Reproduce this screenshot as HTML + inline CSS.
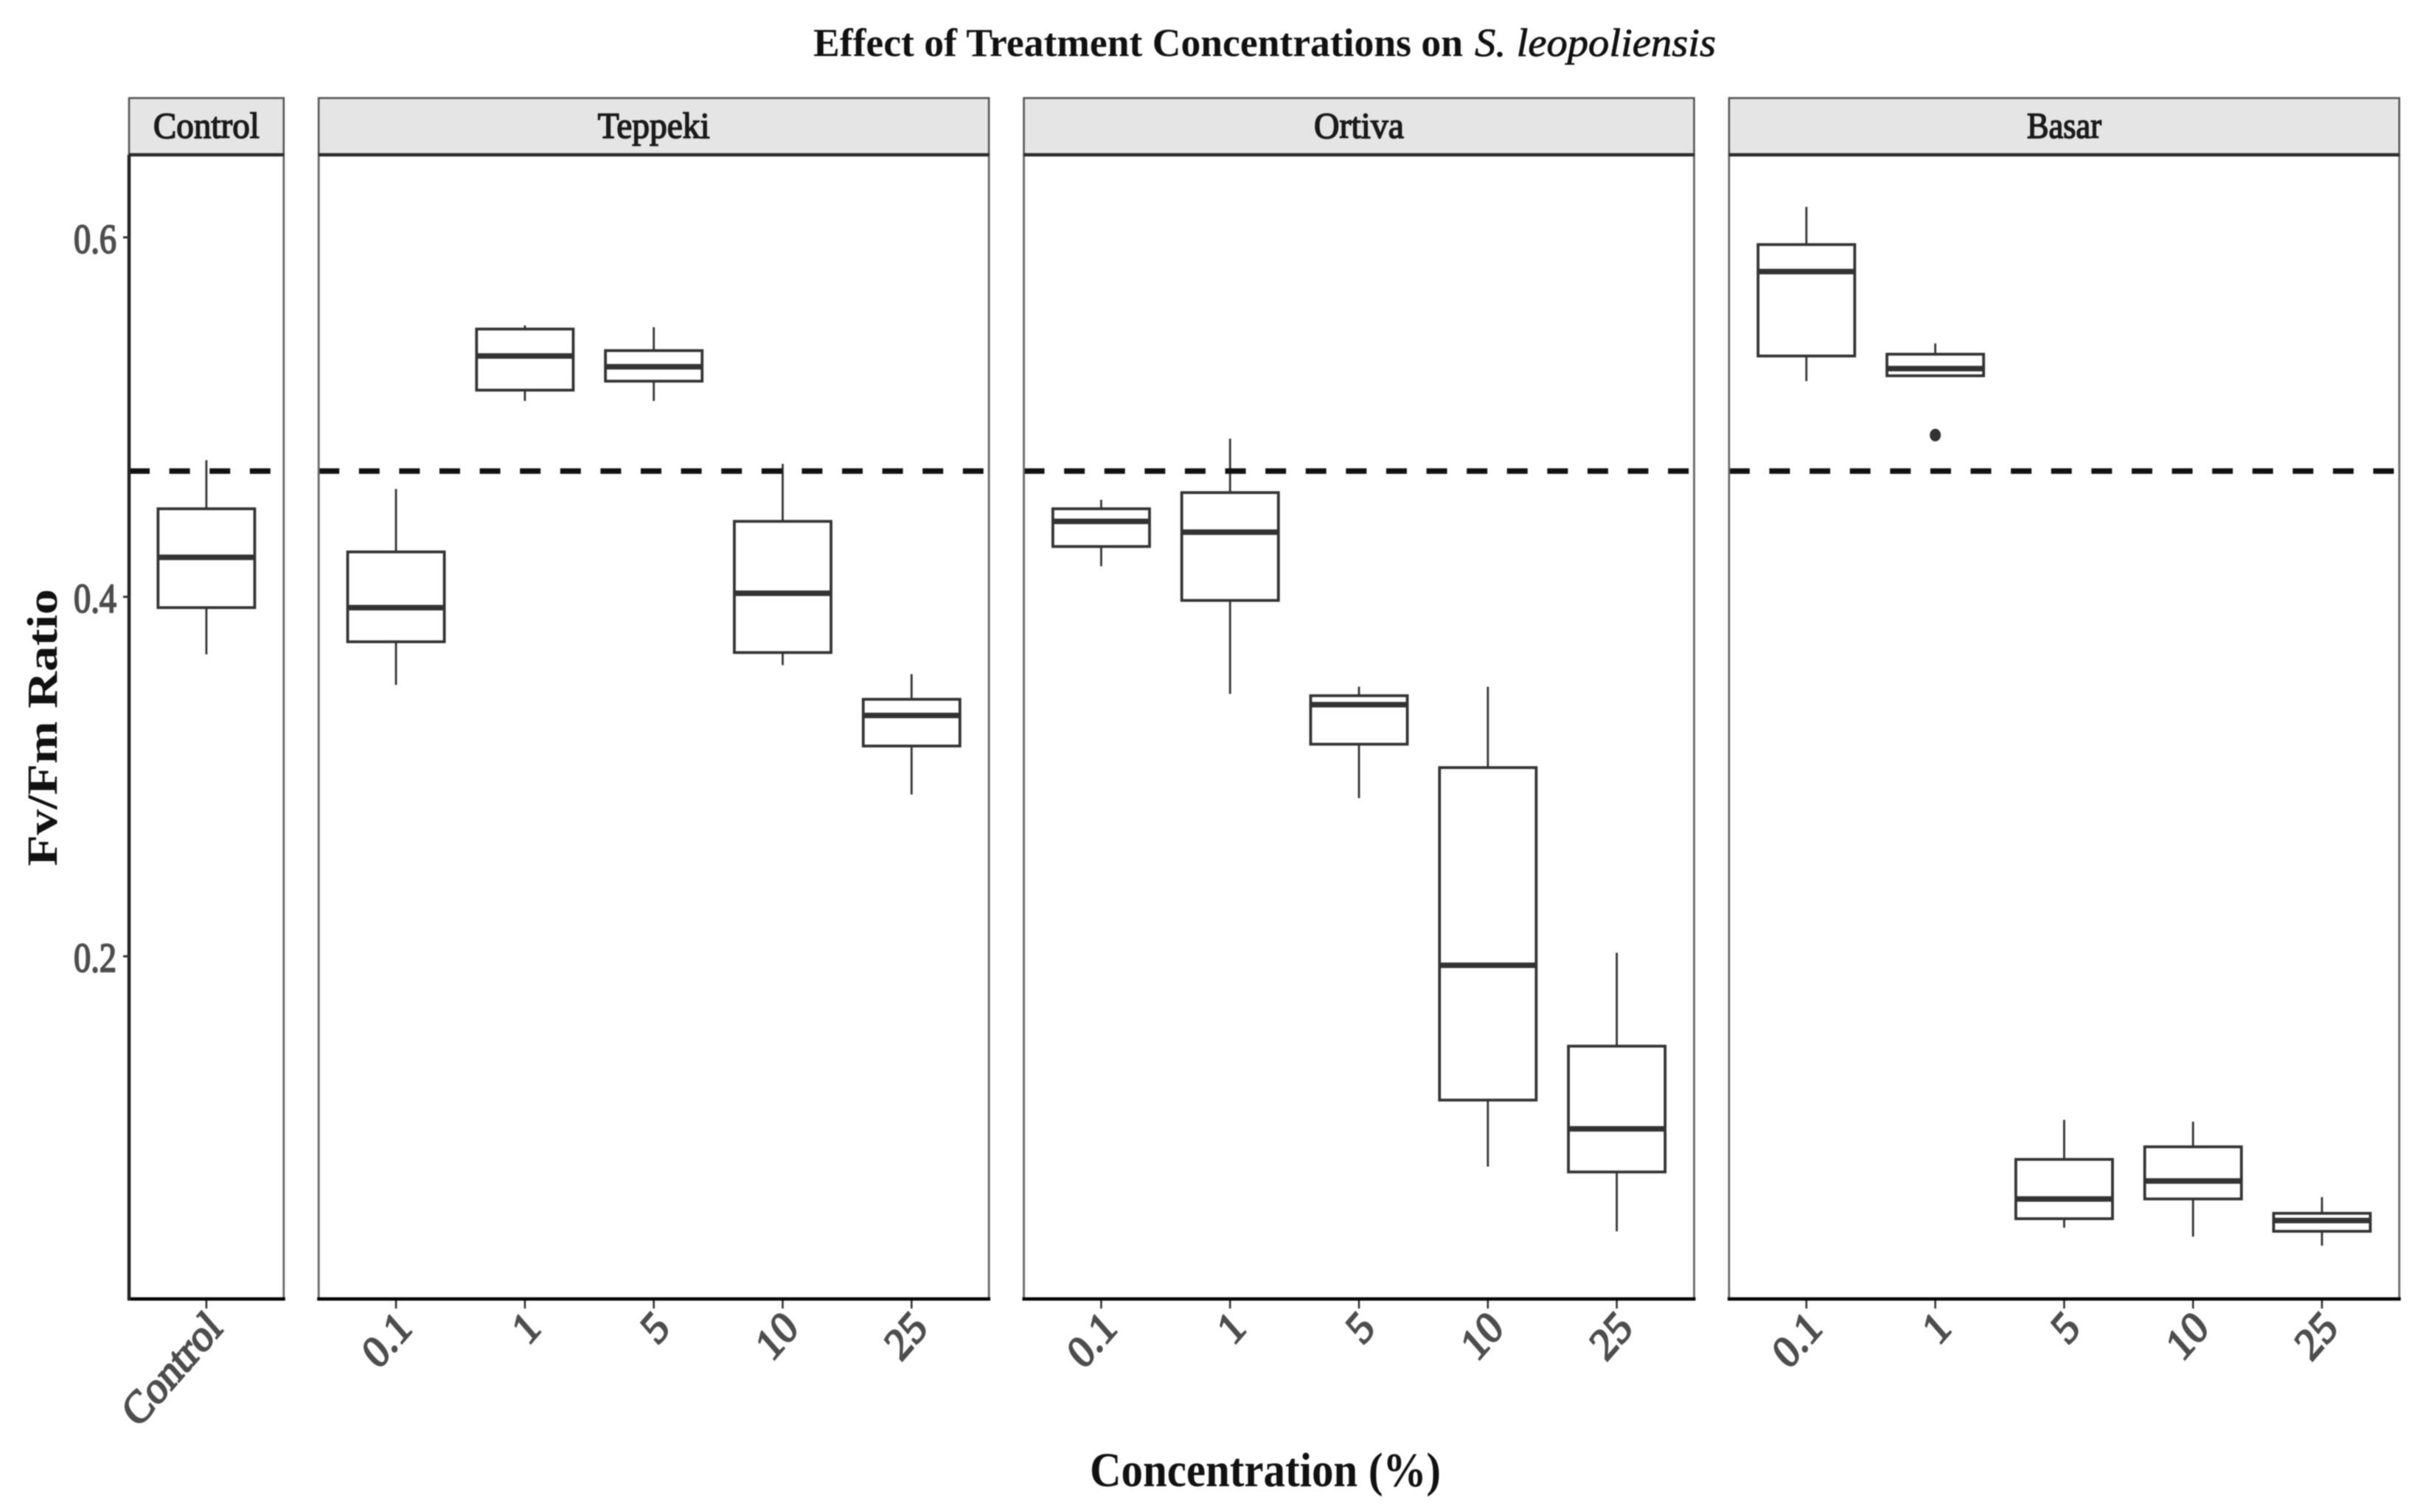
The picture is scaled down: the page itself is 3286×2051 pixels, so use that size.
<!DOCTYPE html>
<html lang="en">
<head>
<meta charset="utf-8">
<title>Effect of Treatment Concentrations on S. leopoliensis</title>
<style>
html,body{margin:0;padding:0;background:#fff;width:3286px;height:2051px;overflow:hidden}
svg{display:block;filter:blur(0.9px)}
text{font-family:"Liberation Serif",serif}
</style>
</head>
<body>
<svg id="chart" xmlns="http://www.w3.org/2000/svg" width="3286" height="2051" viewBox="0 0 3286 2051">
<rect x="0" y="0" width="3286" height="2051" fill="#fff"/>
<text x="1103" y="76" font-size="54" font-weight="bold" fill="#111" textLength="881" lengthAdjust="spacingAndGlyphs">Effect of Treatment Concentrations on</text>
<text x="2000" y="76" font-size="54" font-style="italic" fill="#111" stroke="#111" stroke-width="0.8" textLength="327" lengthAdjust="spacingAndGlyphs">S. leopoliensis</text>
<text x="1478" y="2016" font-size="66" font-weight="bold" fill="#111" textLength="476" lengthAdjust="spacingAndGlyphs">Concentration (%)</text>
<text transform="translate(77,1175) rotate(-90)" font-size="58" font-weight="bold" fill="#111" textLength="376" lengthAdjust="spacingAndGlyphs">Fv/Fm Ratio</text>
</svg>
<script>
const panelNames = ["Control", "Teppeki", "Ortiva", "Basar"];
const panelCategories = [
  ["Control"],
  ["0.1", "1", "5", "10", "25"],
  ["0.1", "1", "5", "10", "25"],
  ["0.1", "1", "5", "10", "25"]
];
const whiskerHigh = [
  [0.476],
  [0.460, 0.551, 0.550, 0.474, 0.357],
  [0.454, 0.488, 0.350, 0.350, 0.202],
  [0.617, 0.541, 0.109, 0.108, 0.066]
];
const quartile3 = [
  [0.449],
  [0.425, 0.549, 0.537, 0.442, 0.343],
  [0.449, 0.458, 0.345, 0.305, 0.150],
  [0.596, 0.535, 0.087, 0.094, 0.057]
];
const medians = [
  [0.422],
  [0.394, 0.534, 0.528, 0.402, 0.334],
  [0.442, 0.436, 0.340, 0.195, 0.104],
  [0.581, 0.527, 0.065, 0.075, 0.053]
];
const quartile1 = [
  [0.394],
  [0.375, 0.515, 0.520, 0.369, 0.317],
  [0.428, 0.398, 0.318, 0.120, 0.080],
  [0.534, 0.523, 0.054, 0.065, 0.047]
];
const whiskerLow = [
  [0.368],
  [0.351, 0.509, 0.509, 0.362, 0.290],
  [0.417, 0.346, 0.288, 0.083, 0.047],
  [0.520, 0.523, 0.049, 0.044, 0.039]
];
const outliers = [
  [[]],
  [[], [], [], [], []],
  [[], [], [], [], []],
  [[], [0.490], [], [], []]
];
const yTicks = [0.2, 0.4, 0.6];
const yTickLabels = ["0.2", "0.4", "0.6"];
const referenceLevel = 0.47;

const svg = document.getElementById('chart');
const NS = 'http://www.w3.org/2000/svg';
const plotTop = 210, plotBottom = 1762, unit = 174.8, gap = 47.4, firstLeft = 175;
const yScale = v => 322 + (0.6 - v) * 2438;

function add(parent, tag, attrs, txt) {
  const el = document.createElementNS(NS, tag);
  for (const k in attrs) el.setAttribute(k, attrs[k]);
  if (txt !== undefined) el.textContent = txt;
  parent.appendChild(el);
  return el;
}
function slug(s) { return String(s).toLowerCase().replace(/[^a-z0-9]+/g, '-'); }

const stripWidths = {Control: 144, Teppeki: 152, Ortiva: 122, Basar: 101};
let left = firstLeft;
panelNames.forEach((name, p) => {
  const cats = panelCategories[p];
  const width = (cats.length + 0.2) * unit;
  const xScale = i => left + (i + 0.6) * unit;
  const boxW = 0.75 * unit;

  const panel = add(svg, 'g', {});
  
  

  cats.forEach((cat, i) => {
    const x = xScale(i);
    const g = add(panel, 'g', {});
    
    
    const st = {stroke: '#333', fill: 'none'};
    add(g, 'line', {...st, x1: x, x2: x, y1: yScale(whiskerHigh[p][i]), y2: yScale(quartile3[p][i]), 'stroke-width': 2.8});
    add(g, 'line', {...st, x1: x, x2: x, y1: yScale(quartile1[p][i]), y2: yScale(whiskerLow[p][i]), 'stroke-width': 2.8});
    add(g, 'rect', {stroke: '#333', fill: '#fff', 'stroke-width': 3.8, x: x - boxW / 2, width: boxW,
      y: yScale(quartile3[p][i]), height: yScale(quartile1[p][i]) - yScale(quartile3[p][i])});
    add(g, 'line', {...st, x1: x - boxW / 2, x2: x + boxW / 2, y1: yScale(medians[p][i]), y2: yScale(medians[p][i]), 'stroke-width': 7.5});
    outliers[p][i].forEach(v => {
      add(g, 'ellipse', {cx: x, cy: yScale(v), rx: 7.5, ry: 8.5, fill: '#333'});
    });

    const tick = add(panel, 'line', {x1: x, x2: x, y1: plotBottom, y2: plotBottom + 13, stroke: '#333', 'stroke-width': 2.6});
    
    

    const lab = add(panel, 'text', {
      transform: `translate(${x + 11},${plotBottom + 28}) scale(0.87,1) rotate(-45)`,
      'text-anchor': 'end', 'font-size': 62, 'font-weight': 'normal', fill: '#4d4d4d', stroke: '#4d4d4d', 'stroke-width': 2.4, dy: '0.33em'
    }, cat);
    
    
  });

  const ref = add(panel, 'line', {x1: left, x2: left + width, y1: yScale(referenceLevel), y2: yScale(referenceLevel),
    stroke: '#111', 'stroke-width': 7.5, 'stroke-dasharray': '28 26.6'});
  
  

  const frame = add(panel, 'rect', {x: left, y: plotTop, width: width, height: plotBottom - plotTop, fill: 'none', stroke: '#666', 'stroke-width': 2.8});
  
  

  const strip = add(panel, 'rect', {x: left, y: 133, width: width, height: plotTop - 133, fill: '#e5e5e5', stroke: '#555', 'stroke-width': 2.6});
  
  

  const stripRule = add(panel, 'line', {x1: left, x2: left + width, y1: plotTop, y2: plotTop, stroke: '#2a2a2a', 'stroke-width': 4.5});
  
  

  const stripText = add(panel, 'text', {x: left + width / 2, y: 187, 'text-anchor': 'middle', 'font-size': 50,
    fill: '#1a1a1a', stroke: '#1a1a1a', 'stroke-width': 1.6, textLength: stripWidths[name], lengthAdjust: 'spacingAndGlyphs'}, name);
  
  

  const axis = add(panel, 'line', {x1: left - 2, x2: left + width + 2, y1: plotBottom, y2: plotBottom, stroke: '#000', 'stroke-width': 4.5});
  
  

  if (p === 0) {
    const yAxis = add(panel, 'line', {x1: left, x2: left, y1: plotTop, y2: plotBottom + 2, stroke: '#222', 'stroke-width': 4.5});
    
    
    yTicks.forEach((v, t) => {
      const m = add(panel, 'line', {x1: left - 8, x2: left, y1: yScale(v), y2: yScale(v), stroke: '#333', 'stroke-width': 3});
      
      
      const l = add(panel, 'text', {x: 100, y: yScale(v) + 21, 'font-size': 56, fill: '#4d4d4d', stroke: '#4d4d4d', 'stroke-width': 2,
        textLength: 58, lengthAdjust: 'spacingAndGlyphs'}, yTickLabels[t]);
      
      
    });
  }
  left += width + gap;
});
</script>
</body>
</html>
